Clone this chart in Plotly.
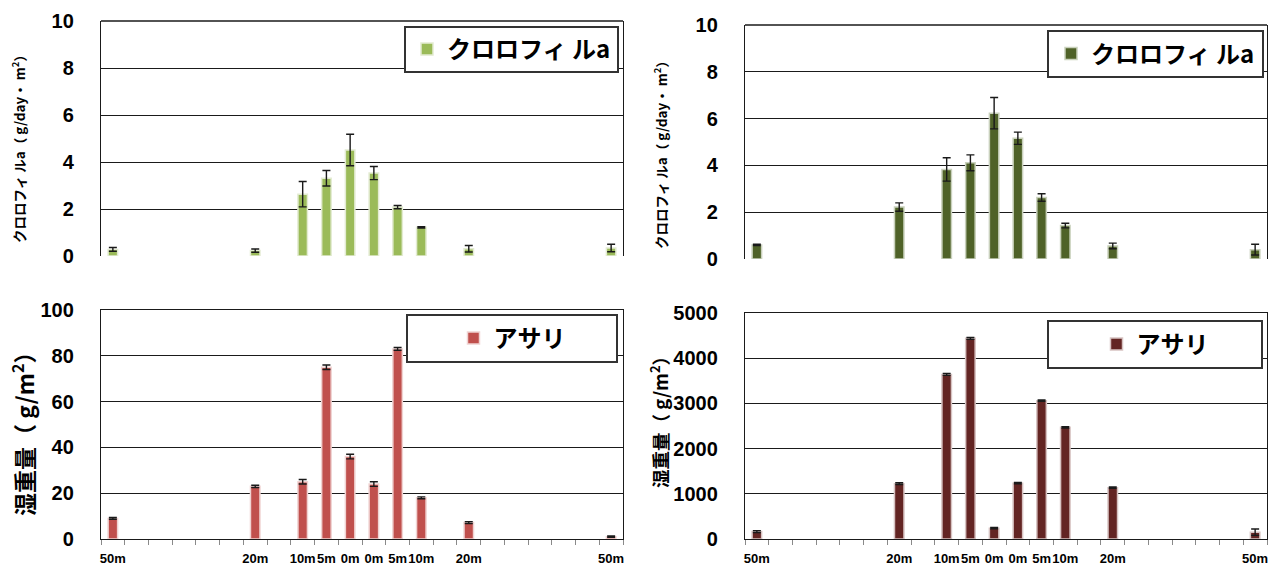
import plotly.graph_objects as go

# Sampling stations along the transect (22 equal slots, blanks are unsampled)
transect = ["50m", "", "", "", "", "", "20m", "", "10m", "5m", "0m",
            "0m", "5m", "10m", "", "20m", "", "", "", "", "", "50m"]
sampled = [i for i, lab in enumerate(transect) if lab]
station_labels = [transect[i] for i in sampled]

# Chlorophyll a (g/day·m2), left and right sites
chl_left = [0.28, 0.23, 2.63, 3.31, 4.51, 3.53, 2.08, 1.22, 0.31, 0.34]
chl_left_err = [0.08, 0.07, 0.54, 0.33, 0.67, 0.28, 0.07, 0.03, 0.14, 0.16]
chl_right = [0.60, 2.22, 3.83, 4.11, 6.23, 5.16, 2.63, 1.43, 0.56, 0.40]
chl_right_err = [0.03, 0.18, 0.50, 0.34, 0.67, 0.26, 0.16, 0.10, 0.12, 0.23]

# Manila clam wet weight (g/m2), left and right sites
clam_left = [9.0, 23.0, 25.0, 75.0, 36.0, 24.0, 83.0, 18.0, 7.2, 1.0]
clam_left_err = [0.4, 0.5, 1.0, 1.0, 1.0, 1.0, 0.6, 0.4, 0.4, 0.3]
clam_right = [165, 1225, 3640, 4440, 240, 1235, 3060, 2470, 1135, 150]
clam_right_err = [20, 20, 20, 20, 15, 15, 15, 15, 15, 70]

W, H = 1269, 568
FONT = "Liberation Sans, Noto Sans CJK JP, sans-serif"
JP = "Noto Sans CJK JP, Liberation Sans, sans-serif"
INK = "#1a1a1a"
n_slots = len(transect)
boundaries = [i - 0.5 for i in range(n_slots + 1)]


def px_x(x):
    return x / W


def px_y(y):
    return 1 - y / H


panels = [
    # (values, errors, colour, edge, legend name, y range, dtick, x px, y px)
    (chl_left, chl_left_err, "#9BBB59", "#E3EBD2", "クロロフィ ルa", [0, 10], 2, (101, 623), (256, 21)),
    (chl_right, chl_right_err, "#4F6228", "#C9D1BC", "クロロフィ ルa", [0, 10], 2, (745, 1267), (259, 25)),
    (clam_left, clam_left_err, "#C0504D", "#F0D3D2", "アサリ", [0, 100], 20, (101, 623), (539, 310)),
    (clam_right, clam_right_err, "#632523", "#D7C3C2", "アサリ", [0, 5000], 1000, (745, 1267), (539, 313)),
]

legend_boxes = [(405, 618, 27, 72), (1048, 1263, 31, 77), (407, 617, 315, 362), (1048, 1262, 321, 368)]

fig = go.Figure()
layout = dict(
    width=W, height=H,
    margin=dict(l=0, r=0, t=0, b=0, autoexpand=False),
    paper_bgcolor="white", plot_bgcolor="white",
    bargap=0.6,
    font=dict(family=FONT, color="black"),
    shapes=[], annotations=[],
)

for k, (vals, errs, col, edge, name, yr, dt, (x0, x1), (yb, yt)) in enumerate(panels):
    n = "" if k == 0 else str(k + 1)
    bottom = k >= 2
    leg = "legend" if k == 0 else f"legend{k + 1}"
    fig.add_trace(go.Bar(
        x=sampled, y=vals, name=name,
        xaxis="x" + n, yaxis="y" + n,
        marker=dict(color=col, line=dict(color=edge, width=1.5)),
        error_y=dict(type="data", array=errs, visible=True,
                     color=INK, thickness=1.4, width=4),
        legend=leg, showlegend=True,
    ))
    layout["xaxis" + n] = dict(
        domain=[px_x(x0), px_x(x1)], anchor="y" + n, automargin=False,
        type="linear", range=[-0.5, n_slots - 0.5],
        tickmode="array", tickvals=sampled, ticktext=station_labels,
        showgrid=False, zeroline=False,
        showline=bottom, mirror=bottom, linecolor=INK, linewidth=1.3,
        ticks="", showticklabels=bottom, tickangle=0, ticklabelstandoff=7,
        tickfont=dict(family=FONT, size=13, weight="bold", color="black"),
        # tick marks sit on the slot boundaries, labels at the slot centres
        minor=dict(
            tickmode="array", tickvals=boundaries,
            ticks="outside" if bottom else "", ticklen=5,
            tickcolor="#8a8a8a", tickwidth=1.2, showgrid=False,
        ),
    )
    layout["yaxis" + n] = dict(
        domain=[px_y(yb), px_y(yt)], anchor="x" + n, automargin=False,
        range=yr, dtick=dt, tick0=0,
        showgrid=True, gridcolor=INK, gridwidth=1.3,
        zeroline=False, showline=True, mirror=True, linecolor=INK, linewidth=1.3,
        ticks="", ticklabelstandoff=22,
        tickfont=dict(family=FONT, size=20, weight="bold", color="black"),
    )
    if not bottom:
        # top edge of the frame for the chlorophyll panels
        layout["shapes"].append(dict(
            type="line", xref=f"x{n} domain", yref=f"y{n} domain",
            x0=0, x1=1, y0=1, y1=1, line=dict(color=INK, width=1.3),
        ))
    bx0, bx1, by0, by1 = legend_boxes[k]
    layout["shapes"].append(dict(
        type="rect", xref="paper", yref="paper",
        x0=px_x(bx0), x1=px_x(bx1), y0=px_y(by1), y1=px_y(by0),
        fillcolor="white", line=dict(color="#333333", width=2), layer="above",
    ))
    layout[leg] = dict(
        x=px_x((bx0 + bx1) / 2), y=px_y((by0 + by1) / 2),
        xanchor="center", yanchor="middle",
        bgcolor="rgba(0,0,0,0)", borderwidth=0,
        font=dict(family=JP, size=24, weight="bold", color="black"),
        itemclick=False, itemdoubleclick=False,
    )

# Vertical axis titles
titles = [
    ("クロロフィ ルa（ g/day・ m<sup>2</sup>）", 18, 146, 13.5),
    ("クロロフィ ルa（ g/day・ m<sup>2</sup>）", 660, 152, 13.5),
    ("湿重量（ g/m<sup>2</sup>）", 23, 429, 23),
    ("湿重量（ g/m<sup>2</sup>）", 659, 418, 18.5),
]
for text, x, y, size in titles:
    layout["annotations"].append(dict(
        text=text, xref="paper", yref="paper", x=px_x(x), y=px_y(y),
        xanchor="center", yanchor="middle", textangle=-90, showarrow=False,
        font=dict(family=JP, size=size, weight="bold", color="black"),
    ))

fig.update_layout(**layout)
fig.write_html("out.html")
